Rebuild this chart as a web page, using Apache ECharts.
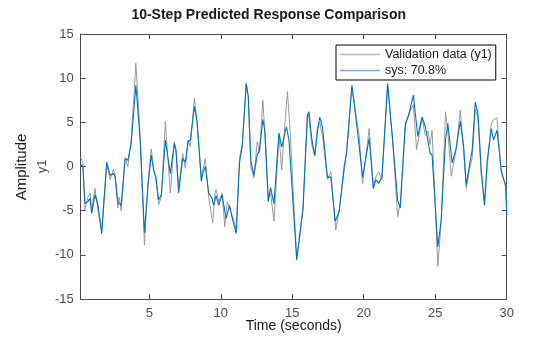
<!DOCTYPE html>
<html>
<head>
<meta charset="utf-8">
<script src="https://cdn.jsdelivr.net/npm/echarts@6/dist/echarts.min.js"></script>
<style>html,body{margin:0;padding:0;background:#fff}#c{width:560px;height:337px}</style>
</head>
<body>
<div id="c"></div>
<script>
// Time stamps (s) and values
var sysTime = [0.2,0.35,0.5,0.69,0.85,0.97,1.2,1.39,1.67,2.02,2.26,2.49,2.61,2.8,3.03,3.31,3.5,3.73,4.06,4.36,4.66,4.9,5.13,5.3,5.46,5.65,5.84,6.12,6.47,6.75,6.87,7.05,7.33,7.52,7.71,7.87,8.15,8.34,8.64,8.73,8.92,9.15,9.39,9.5,9.67,9.86,10.09,10.37,10.61,10.84,11.08,11.31,11.5,11.78,11.92,12.1,12.31,12.55,12.71,12.94,13.08,13.32,13.48,13.72,14.07,14.26,14.59,14.77,15.31,15.52,15.75,16.06,16.17,16.36,16.57,16.76,16.92,17.11,17.46,17.7,18.0,18.28,18.63,18.8,19.17,19.4,19.68,19.92,20.15,20.38,20.67,20.85,21.05,21.27,21.67,22.02,22.37,22.56,22.91,23.15,23.47,23.78,24.08,24.31,24.48,24.64,24.78,25.18,25.41,25.72,25.88,26.19,26.47,26.75,26.98,27.17,27.4,27.59,27.8,27.99,28.22,28.45,28.64,28.92,29.08,29.32,29.62,29.93,30.0];
var sysValues = [0.2,0.0,-4.2,-4.0,-3.6,-5.3,-3.2,-4.2,-7.6,0.5,-1.0,-0.8,-1.2,-4.0,-4.4,0.9,0.7,2.6,9.2,3.0,-7.5,-2.3,1.3,-0.4,-1.2,-3.8,-3.2,3.0,-0.8,2.6,1.9,-3.0,0.9,0.5,2.8,3.0,6.8,5.1,-1.7,-0.8,0.0,-3.0,-3.6,-4.4,-3.3,-4.4,-3.2,-5.9,-4.4,-6.1,-7.6,0.4,2.4,9.4,7.9,0.7,-1.0,1.3,1.9,5.3,4.1,-4.0,-2.4,-4.2,3.8,2.2,4.5,3.0,-10.6,-7.8,-4.9,5.8,6.2,3.2,1.2,3.9,5.6,4.5,-1.2,-1.2,-6.2,-5.1,0.0,1.5,9.2,6.2,2.3,-1.2,1.0,3.2,-2.5,-1.5,-1.9,-1.2,9.4,3.0,-3.8,-4.7,4.9,5.8,8.1,3.4,5.6,4.5,3.0,1.5,1.3,-9.1,-6.2,3.0,4.9,0.4,2.1,5.1,2.4,-2.1,0.2,1.9,7.3,6.0,-0.4,-4.4,0.7,4.3,3.0,4.1,-0.4,-2.3,-5.5];

var valTime = [0.2,0.35,0.5,0.69,0.85,0.97,1.2,1.39,1.67,2.02,2.26,2.49,2.61,2.8,2.9,3.03,3.31,3.5,3.73,4.06,4.36,4.66,4.9,5.13,5.3,5.46,5.65,5.84,6.12,6.47,6.75,6.87,7.05,7.33,7.52,7.71,7.87,8.15,8.34,8.64,8.73,8.92,9.15,9.43,9.6,9.67,9.86,10.09,10.28,10.45,10.61,10.84,11.08,11.31,11.5,11.78,11.92,12.1,12.31,12.55,12.71,12.94,13.08,13.32,13.48,13.72,14.07,14.26,14.4,14.66,14.85,15.31,15.52,15.75,16.06,16.17,16.36,16.57,16.76,16.92,17.11,17.46,17.7,18.04,18.28,18.63,18.8,19.17,19.4,19.68,19.92,20.15,20.38,20.67,20.85,21.05,21.27,21.67,22.02,22.37,22.56,22.91,23.15,23.47,23.7,24.08,24.31,24.48,24.64,24.78,25.18,25.41,25.72,25.88,26.12,26.47,26.75,26.98,27.17,27.4,27.59,27.8,27.99,28.22,28.45,28.64,28.92,29.08,29.32,29.62,29.93,30.0];
var valValues = [1.0,0.5,-4.9,-3.5,-3.0,-5.0,-2.5,-4.8,-7.3,0.3,-1.5,-0.3,-1.0,-4.7,-3.5,-5.0,1.0,0.0,3.0,11.7,3.5,-8.9,-2.0,2.0,-0.2,-1.5,-4.3,-3.5,5.1,-3.0,2.8,1.5,-2.5,1.5,-0.2,3.0,2.2,7.7,5.0,-1.2,-0.5,0.9,-3.4,-6.4,-3.0,-2.6,-4.0,-3.0,-6.8,-4.0,-4.7,-5.8,-7.0,1.0,2.5,9.4,8.0,0.0,-1.3,2.8,1.5,7.5,4.0,-3.5,-3.0,-6.2,3.5,-0.4,3.0,8.5,4.0,-10.4,-8.0,-4.5,6.0,5.5,2.5,1.3,4.5,5.0,3.5,-1.5,-0.6,-7.2,-5.0,-0.5,1.7,9.0,6.5,3.5,-2.0,1.2,4.3,-2.2,-1.2,-0.6,-1.5,9.2,3.0,-5.7,-4.0,4.5,6.0,7.0,1.9,5.5,3.5,4.0,2.5,4.1,-11.3,-6.5,6.2,4.0,-1.1,2.0,6.4,2.0,-2.5,-0.3,1.0,6.5,5.5,-1.0,-4.0,0.0,4.8,5.3,5.5,-0.8,-2.0,-5.0];

var xTicks = [5,10,15,20,25,30];
var yTicks = [-15,-10,-5,0,5,10,15];

function pairs(t, v){ return t.map(function(x,i){ return [x, v[i]]; }); }

var FONT = '"Liberation Sans", Arial, Helvetica, sans-serif';
var AX = '#4d4d4d';
var chart = echarts.init(document.getElementById('c'), null, {renderer:'canvas'});
var baseX = {
  type:'value', min:0.2, max:30,
  axisLine:{show:true, onZero:false, lineStyle:{color:AX, width:1}},
  axisTick:{show:true, inside:true, length:5, customValues:xTicks, lineStyle:{color:AX}},
  splitLine:{show:false}
};
var baseY = {
  type:'value', min:-15, max:15, interval:5,
  axisLine:{show:true, onZero:false, lineStyle:{color:AX, width:1}},
  axisTick:{show:true, inside:true, length:5, lineStyle:{color:AX}},
  splitLine:{show:false}
};
chart.setOption({
  animation:false,
  textStyle:{fontFamily:FONT},
  grid:{left:80.7, right:53.3, top:34, bottom:38, containLabel:false, outerBoundsMode:'none'},
  xAxis:[
    Object.assign({}, baseX, {position:'bottom',
      axisLabel:{show:true, customValues:xTicks, color:AX, fontSize:13, margin:8, fontFamily:FONT},
      name:'Time (seconds)', nameLocation:'middle', nameGap:20, nameMoveOverlap:false,
      nameTextStyle:{color:'#1a1a1a', fontSize:14, fontFamily:FONT}}),
    Object.assign({}, baseX, {position:'top', axisLabel:{show:false}})
  ],
  yAxis:[
    Object.assign({}, baseY, {position:'left',
      axisLabel:{show:true, color:AX, fontSize:13, margin:7, fontFamily:FONT},
      name:'y1', nameLocation:'middle', nameGap:32, nameMoveOverlap:false,
      nameTextStyle:{color:AX, fontSize:13, fontFamily:FONT}}),
    Object.assign({}, baseY, {position:'right', axisLabel:{show:false}})
  ],
  legend:{
    orient:'vertical', left:336, top:45,
    itemWidth:40, itemHeight:1.5, itemGap:1,
    padding:[2,4,2,4],
    borderColor:'#000', borderWidth:1, backgroundColor:'#fff',
    textStyle:{fontSize:12.5, color:'#1a1a1a', fontFamily:FONT, lineHeight:15},
    data:[
      {name:'Validation data (y1)', icon:'rect', itemStyle:{color:'#b8b8b8'}},
      {name:'sys: 70.8%', icon:'rect', itemStyle:{color:'#72aee0'}}
    ]
  },
  graphic:[
    {type:'text', x:268.7, y:15.5, style:{text:'10-Step Predicted Response Comparison', textAlign:'center', textVerticalAlign:'middle', font:'bold 14px '+FONT, fill:'#1a1a1a'}},
    {type:'text', x:22, y:167, rotation:Math.PI/2, style:{text:'Amplitude', textAlign:'center', textVerticalAlign:'middle', font:'15px '+FONT, fill:'#1a1a1a'}}
  ],
  series:[
    {name:'Validation data (y1)', type:'line', data:pairs(valTime, valValues), symbol:'none', showSymbol:false,
     lineStyle:{color:'#9a9a9a', width:1}, itemStyle:{color:'#9a9a9a'}, z:2},
    {name:'sys: 70.8%', type:'line', data:pairs(sysTime, sysValues), symbol:'none', showSymbol:false,
     lineStyle:{color:'#0072BD', width:1.1}, itemStyle:{color:'#0072BD'}, z:3}
  ]
});
</script>
</body>
</html>
